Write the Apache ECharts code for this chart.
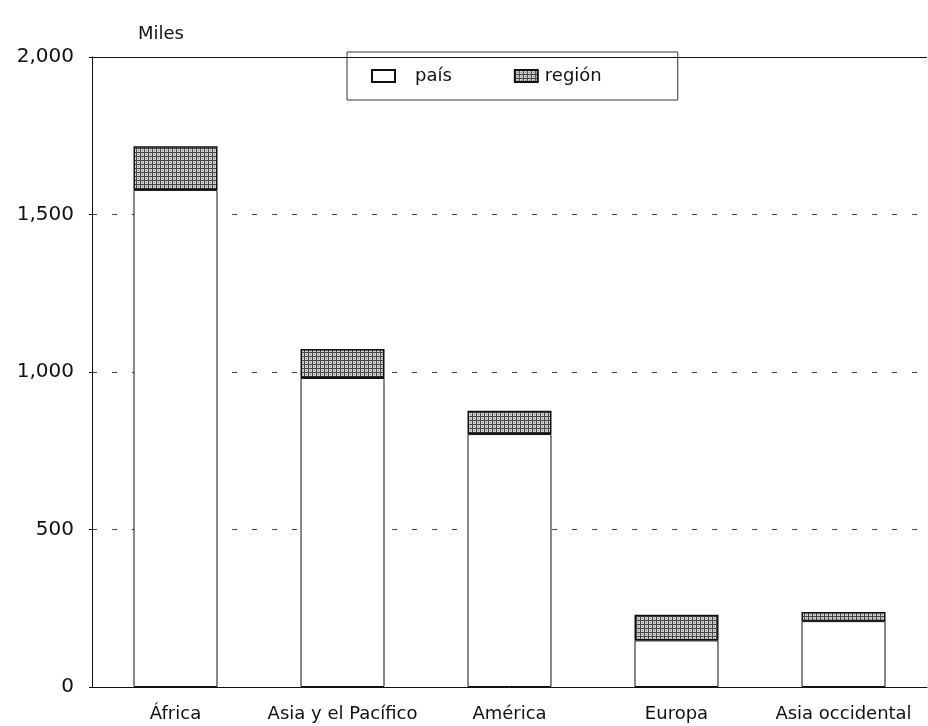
<!DOCTYPE html>
<html>
<head>
<meta charset="utf-8">
<script src="https://cdn.jsdelivr.net/npm/echarts@6/dist/echarts.min.js"></script>
<style>
html,body{margin:0;padding:0;background:#fff;}
#main{width:928px;height:726px;}
</style>
</head>
<body>
<div id="main"></div>
<script>
var categories = ['África', 'Asia y el Pacífico', 'América', 'Europa', 'Asia occidental'];
var paisValues = [1578, 981, 803, 148, 209];
var regionValues = [139, 92, 74, 81, 29];
var yTicks = [0, 500, 1000, 1500, 2000];

function makePattern() {
  var c = document.createElement('canvas');
  c.width = 4; c.height = 4;
  var ctx = c.getContext('2d');
  ctx.fillStyle = '#d0d0d0';
  ctx.fillRect(0, 0, 4, 4);
  ctx.fillStyle = '#444';
  ctx.fillRect(0, 0, 4, 1);
  ctx.fillRect(0, 0, 1, 4);
  ctx.fillStyle = '#888';
  ctx.fillRect(2, 2, 1, 1);
  return c;
}
var pattern = { image: makePattern(), repeat: 'repeat' };

var chart = echarts.init(document.getElementById('main'), null, {renderer: 'canvas'});
var font = 'DejaVu Sans';
chart.setOption({
  animation: false,
  backgroundColor: '#fff',
  grid: { left: 92, right: 1, top: 57, bottom: 39 },
  title: {
    text: 'Miles', left: 133, top: 20,
    textStyle: { fontFamily: font, fontSize: 18, fontWeight: 'normal', color: '#111' }
  },
  legend: {
    left: 347, top: 52,
    padding: [15, 76, 15, 24],
    borderColor: '#333', borderWidth: 1,
    icon: 'rect',
    itemWidth: 23, itemHeight: 12, itemGap: 62,
    textStyle: { fontFamily: font, fontSize: 18, color: '#111' },
    data: [
      { name: 'país', textStyle: { padding: [0, 0, 0, 15] } },
      { name: 'región', textStyle: { padding: [0, 0, 0, 2] } }
    ]
  },
  xAxis: {
    type: 'category',
    data: categories,
    axisLine: { show: true, lineStyle: { color: '#111', width: 1 } },
    axisTick: { show: false },
    axisLabel: { interval: 0, fontFamily: font, fontSize: 18, color: '#111', margin: 18 }
  },
  yAxis: {
    type: 'value',
    min: 0, max: 2000, interval: 500,
    axisLine: { show: true, lineStyle: { color: '#111', width: 1 } },
    axisTick: { show: true, length: 3, lineStyle: { color: '#111' } },
    axisLabel: {
      fontFamily: font, fontSize: 20, color: '#111', margin: 18,
      formatter: function (v) { return v.toLocaleString('en-US'); }
    },
    splitLine: { show: true, lineStyle: { color: '#444', type: [5, 15], width: 1 } }
  },
  series: [
    {
      name: 'país', type: 'bar', stack: 'total', barWidth: 84,
      data: paisValues,
      itemStyle: { color: '#fff', borderColor: '#111', borderWidth: 1 }
    },
    {
      name: 'región', type: 'bar', stack: 'total', barWidth: 84,
      data: regionValues,
      itemStyle: { color: pattern, borderColor: '#111', borderWidth: 1.5 },
      markLine: {
        silent: true, symbol: 'none', label: { show: false },
        lineStyle: { color: '#111', type: 'solid', width: 1 },
        data: [{ yAxis: yTicks[yTicks.length - 1] }]
      }
    }
  ]
});
</script>
</body>
</html>
